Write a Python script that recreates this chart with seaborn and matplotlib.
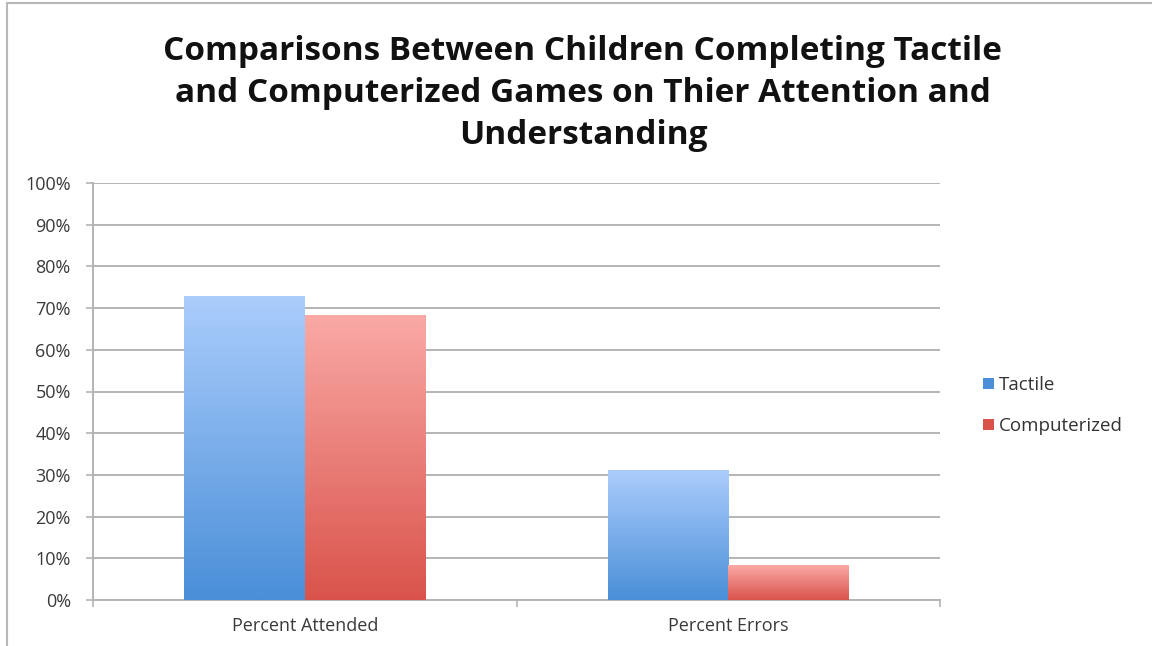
import numpy as np
import pandas as pd
import matplotlib
matplotlib.use("Agg")
import matplotlib.pyplot as plt
from matplotlib.lines import Line2D
from matplotlib.colors import LinearSegmentedColormap
from matplotlib.patches import Patch
import seaborn as sns

# data
categories = ["Percent Attended", "Percent Errors"]
tactile = [72.7, 31.0]
computerized = [68.3, 8.3]
series = ["Tactile", "Computerized"]
y_ticks = list(range(0, 101, 10))

df = pd.DataFrame({
    "category": categories * 2,
    "value": tactile + computerized,
    "series": [series[0]] * 2 + [series[1]] * 2,
})

sns.set_style("white")
plt.rcParams["font.family"] = ["Open Sans", "DejaVu Sans"]

# top / bottom colours of the gradient fill
grad = {
    "Tactile": ("#abcdfc", "#4a8fd8"),
    "Computerized": ("#faa9a5", "#d9534b"),
}

fig = plt.figure(figsize=(11.52, 6.46), dpi=100)
ax = fig.add_axes([93 / 1152, 46 / 646, 847 / 1152, 417 / 646])

sns.barplot(data=df, x="category", y="value", hue="series", order=categories,
            hue_order=series, palette=[grad[s][1] for s in series],
            width=0.57, gap=0, ax=ax, legend=False, zorder=3)

# replace flat fills with vertical gradients
n_cat = len(categories)
for i, patch in enumerate(ax.patches):
    s = series[i // n_cat]
    top_c, bot_c = grad[s]
    cmap = LinearSegmentedColormap.from_list(s, [bot_c, top_c])
    x0 = patch.get_x()
    w = patch.get_width()
    h = patch.get_height()
    img = np.linspace(0, 1, 256).reshape(-1, 1)
    ax.imshow(img, cmap=cmap, origin="lower", aspect="auto",
              extent=(x0, x0 + w, 0, h), zorder=3)
    patch.set_visible(False)

ax.set_xlim(-0.5, n_cat - 0.5)
ax.set_ylim(0, 100)
ax.set_yticks(y_ticks)
ax.set_yticklabels([f"{t}%" for t in y_ticks])
ax.set_xlabel("")
ax.set_ylabel("")

ax.grid(axis="y", color="#b4b4b4", linewidth=1.4, zorder=0)
ax.set_axisbelow(True)
for side in ["top", "right"]:
    ax.spines[side].set_visible(False)
for side in ["left", "bottom"]:
    ax.spines[side].set_color("#b4b4b4")
    ax.spines[side].set_linewidth(1.4)

ax.tick_params(axis="y", which="major", length=5, width=1.2, color="#b4b4b4",
               labelsize=13, labelcolor="#3a3a3a", pad=11, left=True)
ax.set_xticks(range(n_cat))
ax.set_xticklabels(categories)
ax.tick_params(axis="x", which="major", length=0, labelsize=13,
               labelcolor="#3a3a3a", pad=12)
ax.set_xticks([-0.5 + k for k in range(n_cat + 1)], minor=True)
ax.tick_params(axis="x", which="minor", length=5, width=1.2, color="#b4b4b4",
               bottom=True)

fig.suptitle("Comparisons Between Children Completing Tactile\n"
             "and Computerized Games on Thier Attention and\nUnderstanding",
             x=0.506, y=0.946, fontsize=24, fontweight="bold", color="#111111",
             linespacing=1.36)

handles = [Patch(facecolor=grad[s][1], edgecolor="none") for s in series]
fig.legend(handles, series, loc="center left", bbox_to_anchor=(0.839, 0.372),
           frameon=False, fontsize=13.5, handlelength=0.55, handleheight=0.55,
           handletextpad=0.3, labelspacing=1.25, labelcolor="#333333")

# thin frame at top and left edges
fig.add_artist(Line2D([7 / 1152, 7 / 1152], [0, 1 - 3 / 646], color="#b8b8b8",
                      linewidth=1.5, transform=fig.transFigure))
fig.add_artist(Line2D([7 / 1152, 1], [1 - 3 / 646, 1 - 3 / 646], color="#b8b8b8",
                      linewidth=1.5, transform=fig.transFigure))

fig.savefig("out.png", dpi=100)
